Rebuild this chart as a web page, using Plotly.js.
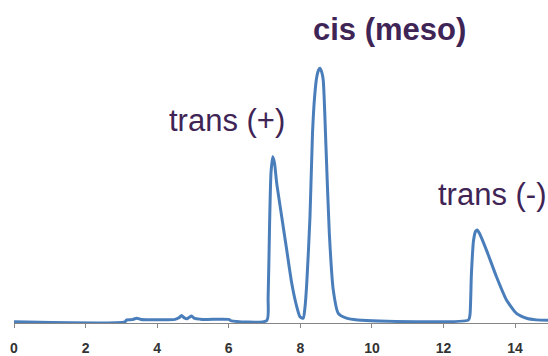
<!DOCTYPE html>
<html>
<head>
<meta charset="utf-8">
<script src="https://cdn.plot.ly/plotly-3.0.1.min.js"></script>
<style>html,body{margin:0;padding:0;background:#fff;}#chart{width:548px;height:356px;}</style>
</head>
<body>
<div id="chart"></div>
<script>
// Retention time (min)
var time = [0, 3.10, 3.15, 3.30, 3.43, 3.55, 3.70, 4.50, 4.62, 4.68, 4.76, 4.84, 4.90, 4.96, 5.05, 5.20, 5.40, 6.00, 6.05, 7.06,
  7.10, 7.14, 7.18, 7.23, 7.28, 7.34, 7.48, 7.62, 7.76, 7.90, 7.99, 8.08,
  8.13, 8.18, 8.27, 8.34, 8.40, 8.46, 8.51, 8.55, 8.60, 8.64, 8.72, 8.81, 8.92, 9.06, 9.29, 9.60,
  12.70, 12.74, 12.78, 12.84, 12.90, 12.94, 13.00, 13.20, 13.48, 13.76, 14.04, 14.32, 14.60, 14.92];
// Detector signal (arbitrary units)
var signal = [0, 0, 0.8, 0.9, 1.5, 1.0, 0.9, 1.0, 1.8, 2.6, 1.6, 1.3, 1.9, 2.4, 1.4, 1.1, 1.0, 1.0, 0.5, 0.5,
  10, 40, 62, 68.8, 66, 57.8, 43.8, 29.9, 16.1, 6.3, 2.1, 1.5,
  6, 16.1, 43.8, 78.6, 94, 102.2, 105, 105.7, 104, 100.8, 71.6, 36.9, 13.3, 3.5, 1.5, 0.8,
  0.8, 3, 20, 34, 37.8, 38.3, 37, 29.9, 18.8, 9.1, 3.5, 1.5, 0.8, 0.6];

var tickVals = [0, 2, 4, 6, 8, 10, 12, 14];
var tickText = ['<b>0</b>', '<b>2</b>', '<b>4</b>', '<b>6</b>', '<b>8</b>', '<b>10</b>', '<b>12</b>', '<b>14</b>'];

var peakLabels = ['trans (+)', '<b>cis (meso)</b>', 'trans (-)'];

var trace = {
  x: time, y: signal, type: 'scatter', mode: 'lines',
  line: {color: '#4a7ebb', width: 3, shape: 'spline', smoothing: 0.6},
  hoverinfo: 'none'
};

// label placement (paper-relative)
var labelPos = [[0.3998, 0.702], [0.704, 1.017], [0.896, 0.443]];
var annotations = peakLabels.map(function(t, i) {
  return {
    text: t, x: labelPos[i][0], y: labelPos[i][1], xref: 'paper', yref: 'paper',
    showarrow: false, xanchor: 'center', yanchor: 'middle',
    font: {family: 'Liberation Sans, Arial, sans-serif', size: 31, color: '#3f2456'}
  };
});

var layout = {
  width: 548, height: 356,
  margin: {l: 14, r: 0, t: 34, b: 33},
  paper_bgcolor: '#ffffff', plot_bgcolor: '#ffffff',
  showlegend: false,
  xaxis: {
    range: [0, 14.92], tickvals: tickVals, ticktext: tickText,
    showgrid: false, zeroline: false, showline: true,
    linecolor: '#868686', linewidth: 1,
    ticks: 'outside', ticklen: 4, tickcolor: '#868686', tickwidth: 1,
    ticklabelstandoff: 8,
    tickfont: {family: 'Liberation Sans, Arial, sans-serif', size: 14, color: '#333333'}
  },
  yaxis: {
    range: [-0.5, 120], visible: false, showgrid: false, zeroline: false
  },
  annotations: annotations
};

Plotly.newPlot('chart', [trace], layout, {staticPlot: true, displayModeBar: false});
</script>
</body>
</html>
